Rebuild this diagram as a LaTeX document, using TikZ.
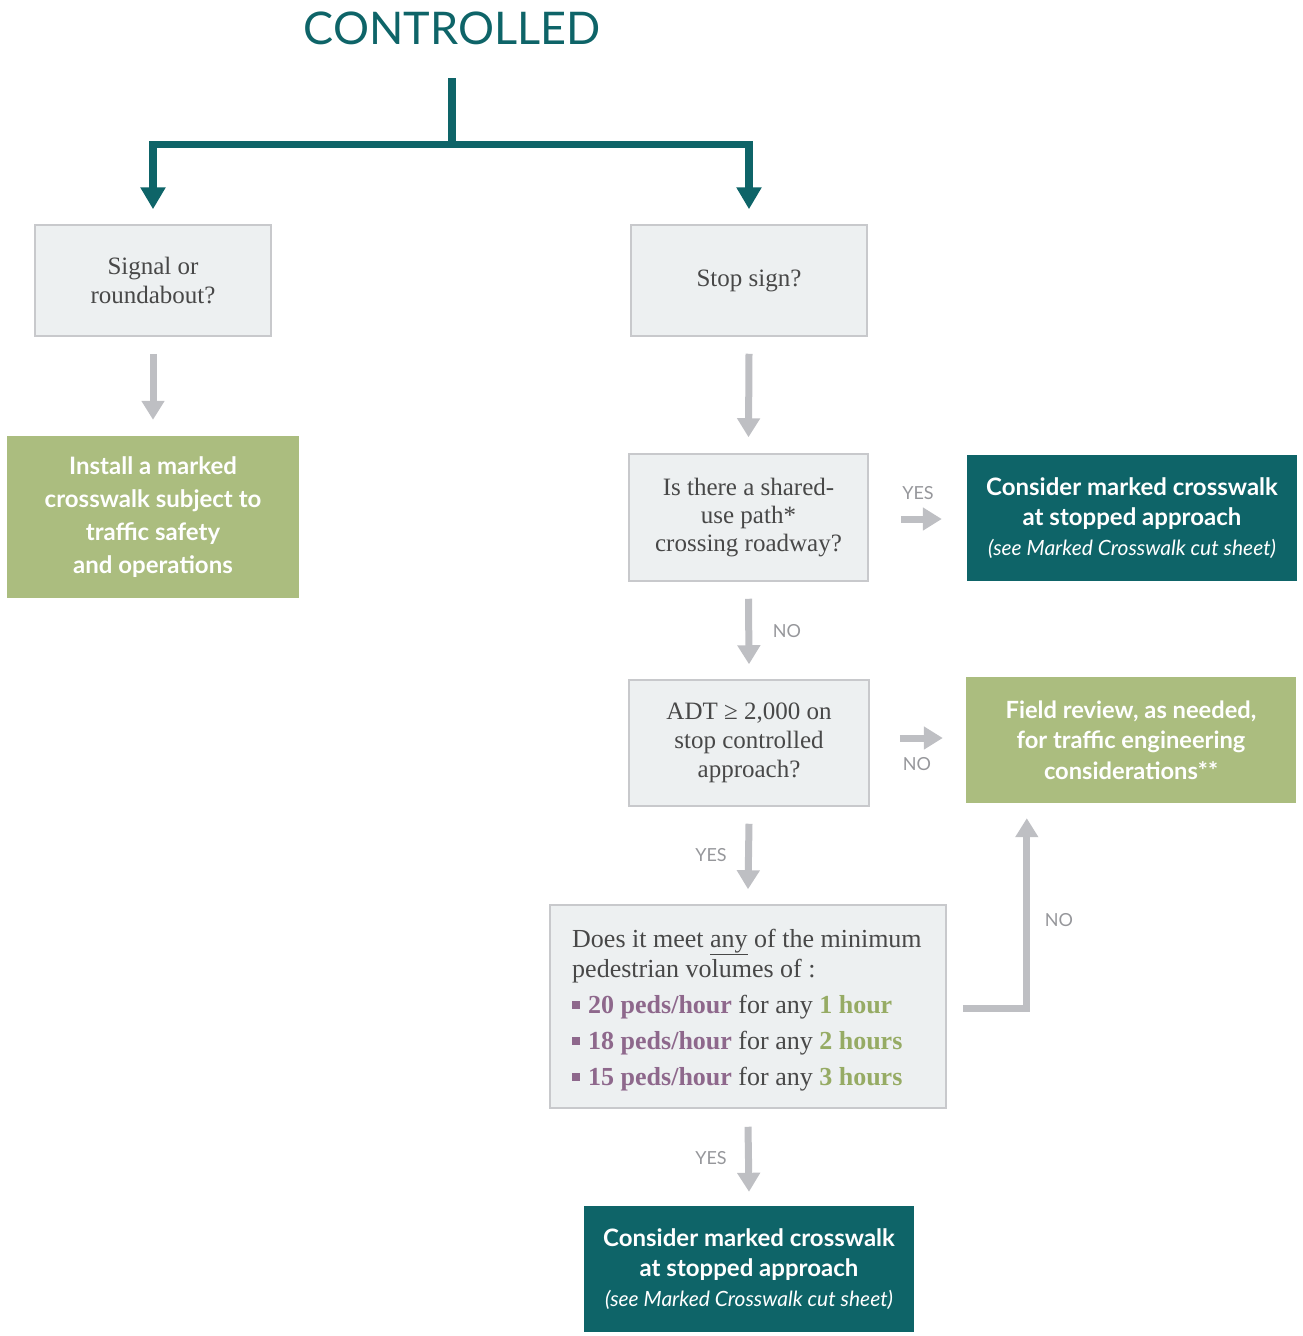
\documentclass[tikz,border=0pt]{standalone}
\usepackage{fontspec}
\setmainfont{Liberation Serif}
\newfontfamily\gs{Lato}
\usetikzlibrary{arrows.meta,calc}
\definecolor{tealc}{RGB}{14,100,104}
\definecolor{grn}{RGB}{171,189,127}
\definecolor{arw}{RGB}{190,191,195}
\definecolor{boxfill}{RGB}{237,240,241}
\definecolor{boxline}{RGB}{200,201,204}
\definecolor{txtgray}{RGB}{72,72,72}
\definecolor{purp}{RGB}{142,104,140}
\definecolor{grtxt}{RGB}{150,171,100}
\definecolor{lblgray}{RGB}{150,151,155}
\begin{document}
\begin{tikzpicture}[x=1pt,y=-1pt,
  qbox/.style={draw=boxline,line width=1.5pt,fill=boxfill,inner sep=0pt,align=center,text=txtgray,font=\fontsize{25}{29}\selectfont},
  gbox/.style={fill=grn,inner sep=0pt,align=center,text=white,font=\gs\bfseries\fontsize{24}{33}\selectfont},
  tbox/.style={fill=tealc,inner sep=0pt,align=center,text=white,font=\gs\bfseries\fontsize{24}{30}\selectfont},
  garrow/.style={draw=arw,line width=7pt,-{Triangle[width=22pt,length=19pt]}},
  tline/.style={draw=tealc,line width=7.5pt},
  tarrow/.style={draw=tealc,line width=7.5pt,-{Triangle[width=24pt,length=22pt]}},
  lbl/.style={text=lblgray,font=\gs\fontsize{18}{20}\selectfont,inner sep=0pt}]
\useasboundingbox (0,0) rectangle (1302,1336);

\node[font=\gs\fontsize{45}{50}\selectfont,text=tealc,inner sep=0pt] (title) at (452,28) {CONTROLLED};
\coordinate (top) at (452,78);
\coordinate (j) at (452,144.5);

\node[qbox,minimum width=236pt,minimum height=111pt] (sig) at (153,280.5) {Signal or\\roundabout?};
\node[qbox,minimum width=236pt,minimum height=111pt] (stop) at (749,280.5) {Stop sign?};
\node[gbox,minimum width=292pt,minimum height=162pt] (inst) at (153,517) {Install a marked\\crosswalk subject to\\traffic safety\\and operations};
\node[qbox,minimum width=239pt,minimum height=127pt,font=\fontsize{25}{28}\selectfont] (shared) at (748.5,517.5) {Is there a shared-\\use path*\\crossing roadway?};
\node[tbox,minimum width=330pt,minimum height=126pt] (cons1) at (1132,518) {Consider marked crosswalk\\at stopped approach\\{\mdseries\itshape\fontsize{21}{30}\selectfont (see Marked Crosswalk cut sheet)}};
\node[qbox,minimum width=240pt,minimum height=126pt] (adt) at (749,743) {ADT ≥ 2,000 on\\stop controlled\\approach?};
\node[gbox,minimum width=330pt,minimum height=126pt,font=\gs\bfseries\fontsize{23.7}{30.5}\selectfont] (field) at (1131,740) {Field review, as needed,\\for traffic engineering\\considerations**};
\node[qbox,minimum width=396pt,minimum height=203pt] (ped) at (748,1006.5) {};
\node[inner sep=0pt,align=left,text=txtgray,font=\fontsize{26}{30}\selectfont,anchor=west] (pedtxt) at (572,1010) {Does it meet \underline{any} of the minimum\\pedestrian volumes of :\\[6pt]
{\color{purp}\rule[4pt]{8pt}{8pt}}\hspace{8pt}{\color{purp}\bfseries 20 peds/hour} for any {\color{grtxt}\bfseries 1 hour}\\[6pt]
{\color{purp}\rule[4pt]{8pt}{8pt}}\hspace{8pt}{\color{purp}\bfseries 18 peds/hour} for any {\color{grtxt}\bfseries 2 hours}\\[6pt]
{\color{purp}\rule[4pt]{8pt}{8pt}}\hspace{8pt}{\color{purp}\bfseries 15 peds/hour} for any {\color{grtxt}\bfseries 3 hours}};
\node[tbox,minimum width=330pt,minimum height=126pt] (cons2) at (749,1269) {Consider marked crosswalk\\at stopped approach\\{\mdseries\itshape\fontsize{21}{30}\selectfont (see Marked Crosswalk cut sheet)}};

% teal tree
\draw[tline] (top) -- (j);
\draw[tarrow] (j) -| ([yshift=15pt]sig.north);
\draw[tarrow] (j) -| ([yshift=15pt]stop.north);

% gray arrows
\draw[garrow] ([yshift=-17pt]sig.south) -- ([yshift=16pt]inst.north);
\draw[garrow] ([yshift=-17pt]stop.south) -- ([yshift=16pt]shared.north);
\draw[garrow] ([yshift=-17pt]shared.south) -- ([yshift=15pt]adt.north);
\draw[garrow] ($(shared.east)+(32,1.5)$) -- ($(shared.east -| cons1.west)+(-25,1.5)$);
\draw[garrow] ($(adt.east)+(30,-5)$) -- ($(adt.east -| field.west)+(-23,-5)$);
\draw[garrow] ([yshift=-17pt]adt.south) -- ([yshift=15pt]ped.north);
\draw[garrow] ([yshift=-18pt]ped.south) -- ([yshift=14pt]cons2.north);
\draw[garrow,line join=miter] ($(ped.east)+(16,1.5)$) -| ($(field.south west)+(61,15)$);

% labels
\node[lbl] (l1) at (918,493) {YES};
\node[lbl] (l2) at (787,631) {NO};
\node[lbl] (l3) at (917,764) {NO};
\node[lbl] (l4) at (711,855) {YES};
\node[lbl] (l5) at (1059,920) {NO};
\node[lbl] (l6) at (711,1158) {YES};
\end{tikzpicture}
\end{document}
